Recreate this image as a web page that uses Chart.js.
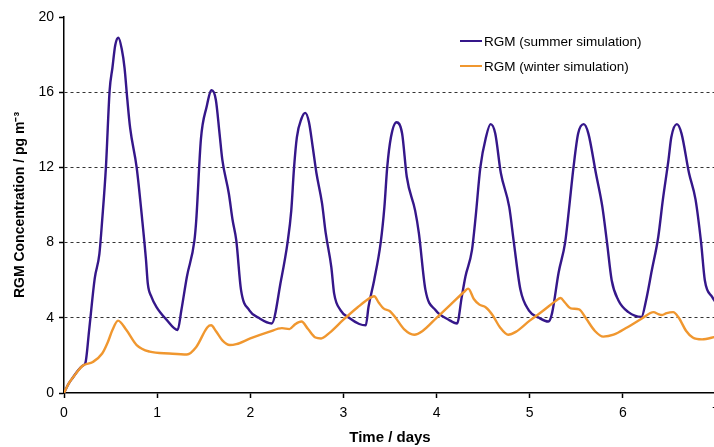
<!DOCTYPE html>
<html>
<head>
<meta charset="utf-8">
<title>RGM concentration</title>
<script src="https://cdn.jsdelivr.net/npm/chart.js@4/dist/chart.umd.min.js"></script>
<style>
    html, body { margin: 0; padding: 0; background: #fff; overflow: hidden; }
    #wrap { position: relative; width: 724px; height: 447px; }
    #legend { position: absolute; left: 460px; top: 31px; font-family: "Liberation Sans", Arial, sans-serif; font-size: 13.5px; color: #000; }
    #legend div { height: 25px; line-height: 21px; white-space: nowrap; }
    #legend span.swatch { display: inline-block; width: 22px; height: 2px; vertical-align: middle; margin-right: 2px; position: relative; top: -1px; }
</style>
</head>
<body>
<div id="wrap">
    <canvas id="rgmChart"></canvas>
    <div id="legend"></div>
</div>
<script>
// summer simulation (time in days, concentration in pg m-3)
const summerTime = [0, 0.05, 0.1, 0.15, 0.2, 0.23, 0.27, 0.33, 0.38, 0.41, 0.45, 0.49, 0.52, 0.55, 0.584, 0.62, 0.65, 0.68, 0.71, 0.78, 0.84, 0.88, 0.90, 0.94, 0.99, 1.10, 1.22,
    1.26, 1.32, 1.40, 1.42, 1.47, 1.53, 1.585, 1.63, 1.67, 1.70, 1.77, 1.81, 1.85, 1.90, 1.99, 2.09, 2.23,
    2.33, 2.40, 2.44, 2.47, 2.50, 2.55, 2.59, 2.63, 2.67, 2.71, 2.77, 2.81, 2.87, 2.90, 2.97, 3.06, 3.17, 3.24,
    3.27, 3.33, 3.40, 3.44, 3.47, 3.51, 3.57, 3.63, 3.68, 3.77, 3.81, 3.88, 3.99, 4.13, 4.22,
    4.27, 4.31, 4.38, 4.42, 4.47, 4.53, 4.58, 4.63, 4.69, 4.78, 4.83, 4.90, 4.99, 5.10, 5.20,
    5.24, 5.31, 5.38, 5.42, 5.47, 5.52, 5.58, 5.63, 5.71, 5.78, 5.83, 5.88, 5.95, 6.06, 6.20,
    6.25, 6.31, 6.38, 6.43, 6.49, 6.52, 6.58, 6.63, 6.71, 6.78, 6.84, 6.88, 6.96, 7.0];
const summerRGM = [0, 0.5, 0.85, 1.2, 1.45, 1.6, 3.35, 6.1, 7.4, 9.2, 12.0, 16.1, 17.3, 18.5, 18.9, 18.3, 17.3, 15.6, 14.1, 12.0, 9.2, 7.1, 5.8, 5.1, 4.6, 3.9, 3.35,
    4.4, 6.2, 8.1, 9.2, 13.5, 15.2, 16.1, 15.6, 13.8, 12.4, 10.6, 9.2, 8.1, 5.5, 4.4, 4.0, 3.7,
    6.0, 8.0, 9.7, 12.0, 13.6, 14.6, 14.9, 14.4, 13.1, 11.7, 10.1, 8.5, 6.7, 5.3, 4.4, 4.0, 3.67, 3.6,
    4.6, 6.0, 8.0, 9.9, 12.0, 13.6, 14.4, 13.8, 11.5, 9.7, 8.5, 5.5, 4.4, 3.9, 3.7,
    5.1, 6.2, 7.6, 9.4, 12.0, 13.6, 14.3, 13.8, 11.7, 9.9, 8.0, 5.5, 4.4, 4.0, 3.8,
    4.25, 6.4, 8.0, 9.7, 12.0, 13.8, 14.3, 13.8, 11.7, 9.9, 8.0, 6.0, 4.95, 4.3, 4.05,
    4.95, 6.5, 8.3, 10.3, 12.4, 13.6, 14.3, 13.8, 11.7, 10.3, 8.0, 6.0, 5.1, 4.8];

// winter simulation
const winterTime = [0, 0.05, 0.1, 0.2, 0.31, 0.41, 0.47, 0.52, 0.58, 0.67, 0.78, 0.92, 1.13, 1.32, 1.42, 1.54, 1.58, 1.63, 1.7, 1.78, 1.85,
    2.0, 2.2, 2.34, 2.42, 2.48, 2.55, 2.62, 2.7, 2.76, 2.85, 3.0, 3.15, 3.3, 3.33, 3.38, 3.43, 3.5, 3.56, 3.65, 3.76, 3.85,
    4.0, 4.15, 4.3, 4.34, 4.4, 4.46, 4.53, 4.6, 4.68, 4.77, 4.85, 5.0, 5.15, 5.28, 5.33, 5.38, 5.44, 5.53, 5.6, 5.7, 5.79, 5.9,
    6.05, 6.2, 6.33, 6.38, 6.42, 6.47, 6.54, 6.6, 6.68, 6.75, 6.85, 7.0];
const winterRGM = [0, 0.5, 0.85, 1.45, 1.65, 2.1, 2.7, 3.35, 3.85, 3.35, 2.55, 2.2, 2.1, 2.05, 2.45, 3.5, 3.6, 3.3, 2.8, 2.55, 2.6,
    2.9, 3.25, 3.45, 3.4, 3.65, 3.8, 3.4, 2.95, 2.9, 3.2, 3.9, 4.55, 5.1, 5.15, 4.8, 4.5, 4.35, 4.0, 3.4, 3.1, 3.3,
    4.0, 4.7, 5.4, 5.55, 5.0, 4.7, 4.55, 4.15, 3.5, 3.1, 3.25, 3.85, 4.4, 4.9, 5.05, 4.8, 4.5, 4.45, 4.0, 3.3, 3.0, 3.1,
    3.5, 3.95, 4.3, 4.2, 4.15, 4.25, 4.3, 4.0, 3.3, 2.95, 2.85, 3.0];

const yTicks = [0, 4, 8, 12, 16, 20];

const seriesNames = ['RGM (summer simulation)', 'RGM (winter simulation)'];
const seriesColors = ['#35178a', '#f0972f'];

function toPoints(xs, ys) {
    return xs.map((x, i) => ({ x: x, y: ys[i] }));
}

const font = 'Liberation Sans, Arial, sans-serif';

const ctx = document.getElementById('rgmChart').getContext('2d');
new Chart(ctx, {
    type: 'line',
    data: {
        datasets: [{
            label: seriesNames[0],
            data: toPoints(summerTime, summerRGM),
            borderColor: seriesColors[0],
            borderWidth: 2.4,
            pointRadius: 0,
            cubicInterpolationMode: 'monotone',
            order: 2
        }, {
            label: seriesNames[1],
            data: toPoints(winterTime, winterRGM),
            borderColor: seriesColors[1],
            borderWidth: 2.4,
            pointRadius: 0,
            cubicInterpolationMode: 'monotone',
            order: 1
        }]
    },
    options: {
        responsive: true,
        maintainAspectRatio: false,
        animation: false,
        layout: { padding: { top: 17, right: 8, left: 0, bottom: 0 } },
        plugins: { legend: { display: false }, tooltip: { enabled: false } },
        scales: {
            x: {
                type: 'linear',
                min: 0,
                max: 7,
                ticks: { stepSize: 1, color: '#000', padding: 7, font: { family: font, size: 14 } },
                grid: { drawOnChartArea: false, tickLength: 5, tickColor: '#000', tickWidth: 1.5 },
                border: { color: '#000', width: 1.5 },
                title: { display: true, text: 'Time / days', color: '#000', padding: { top: 0, bottom: 0 },
                    font: { family: font, size: 15, weight: 'bold' } },
                afterFit: function (scale) {
                    scale.height = 54;
                    scale.paddingLeft = 0;
                    scale.paddingRight = 0;
                }
            },
            y: {
                min: 0,
                max: 20,
                afterBuildTicks: function (scale) {
                    scale.ticks = yTicks.map(v => ({ value: v }));
                },
                ticks: { color: '#000', padding: 5, font: { family: font, size: 14 } },
                grid: {
                    color: c => (c.tick && (c.tick.value === 0 || c.tick.value === 20)) ? 'rgba(0,0,0,0)' : '#333',
                    lineWidth: 1,
                    tickLength: 5,
                    tickColor: '#000',
                    tickWidth: 1.5
                },
                border: { color: '#000', width: 1.5, dash: [3, 3] },
                title: { display: true, text: 'RGM Concentration / pg m\u207B\u00B3', color: '#000', padding: { top: 12, bottom: 0 },
                    font: { family: font, size: 14, weight: 'bold' } },
                afterFit: function (scale) {
                    scale.width = 64;
                }
            }
        }
    }
});

// legend drawn inside the plot, top right
const legend = document.getElementById('legend');
seriesNames.forEach((name, i) => {
    legend.innerHTML += '<div><span class="swatch" style="background:' + seriesColors[i] + '"></span>' + name + '</div>';
});
</script>
</body>
</html>
